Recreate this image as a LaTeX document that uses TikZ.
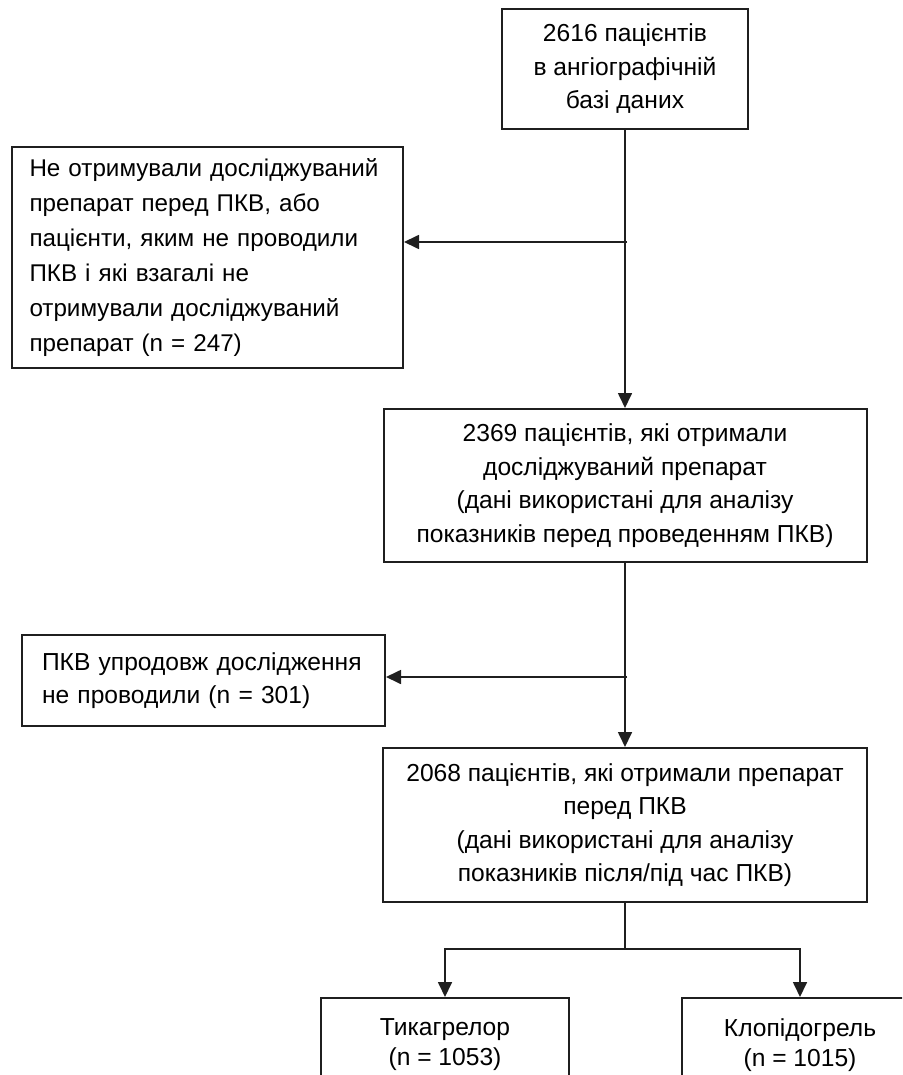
\documentclass[tikz,border=0pt]{standalone}
\usepackage{fontspec}
\setmainfont{Liberation Sans}
\usetikzlibrary{arrows.meta}

\begin{document}
\begin{tikzpicture}[x=1pt,y=-1pt,
  box/.style={draw=black!88,line width=2pt,inner sep=0pt,align=center,
    font=\fontsize{24.6}{33.5}\selectfont},
  link/.style={draw=black!88,line width=1.7pt},
  arr/.style={link,-{Triangle[length=15pt,width=14pt]}}]
\clip (0,0) rectangle (902,1075);
\node (1) at (625,69) [box,minimum width=246pt,minimum height=120pt] {2616 пацієнтів\\в ангіографічній\\базі даних};
\node (2) at (207.5,257.5) [box,minimum width=391pt,minimum height=221pt,text width=356pt,align=left,font=\fontsize{24.2}{35}\selectfont] {Не отримували досліджуваний\\препарат перед ПКВ, або\\пацієнти, яким не проводили\\ПКВ і які взагалі не\\отримували досліджуваний\\препарат (n = 247)};
\node (3) at (625,485.5) [box,minimum width=483pt,minimum height=153pt] {2369 пацієнтів, які отримали\\досліджуваний препарат\\(дані використані для аналізу\\показників перед проведенням ПКВ)};
\node (4) at (203.5,680.5) [box,minimum width=363pt,minimum height=91pt,text width=323pt,align=left] {ПКВ упродовж дослідження\\не проводили (n = 301)};
\node (5) at (625,825) [box,minimum width=484pt,minimum height=154pt] {2068 пацієнтів, які отримали препарат\\перед ПКВ\\(дані використані для аналізу\\показників після/під час ПКВ)};
\node (6) at (445,997) [box,anchor=north,minimum width=248pt,minimum height=94pt,font=\fontsize{24.6}{30}\selectfont] {Тикагрелор\\(n = 1053)};
\node (7) at (800,997) [box,anchor=north,minimum width=236pt,minimum height=94pt,font=\fontsize{24.6}{30}\selectfont] {Клопідогрель\\(n = 1015)};
\coordinate (a) at (627,242);
\coordinate (b) at (627,677);
\coordinate (c) at (625,949);
\draw[arr] (1) -- (3);
\draw[arr] (a) -- (a -| 2.east);
\draw[arr] (3) -- (5);
\draw[arr] (b) -- (b -| 4.east);
\draw[link] (5) -- (c);
\draw[arr] (c) -| (6);
\draw[arr] (c) -| (7);
\end{tikzpicture}
\end{document}
